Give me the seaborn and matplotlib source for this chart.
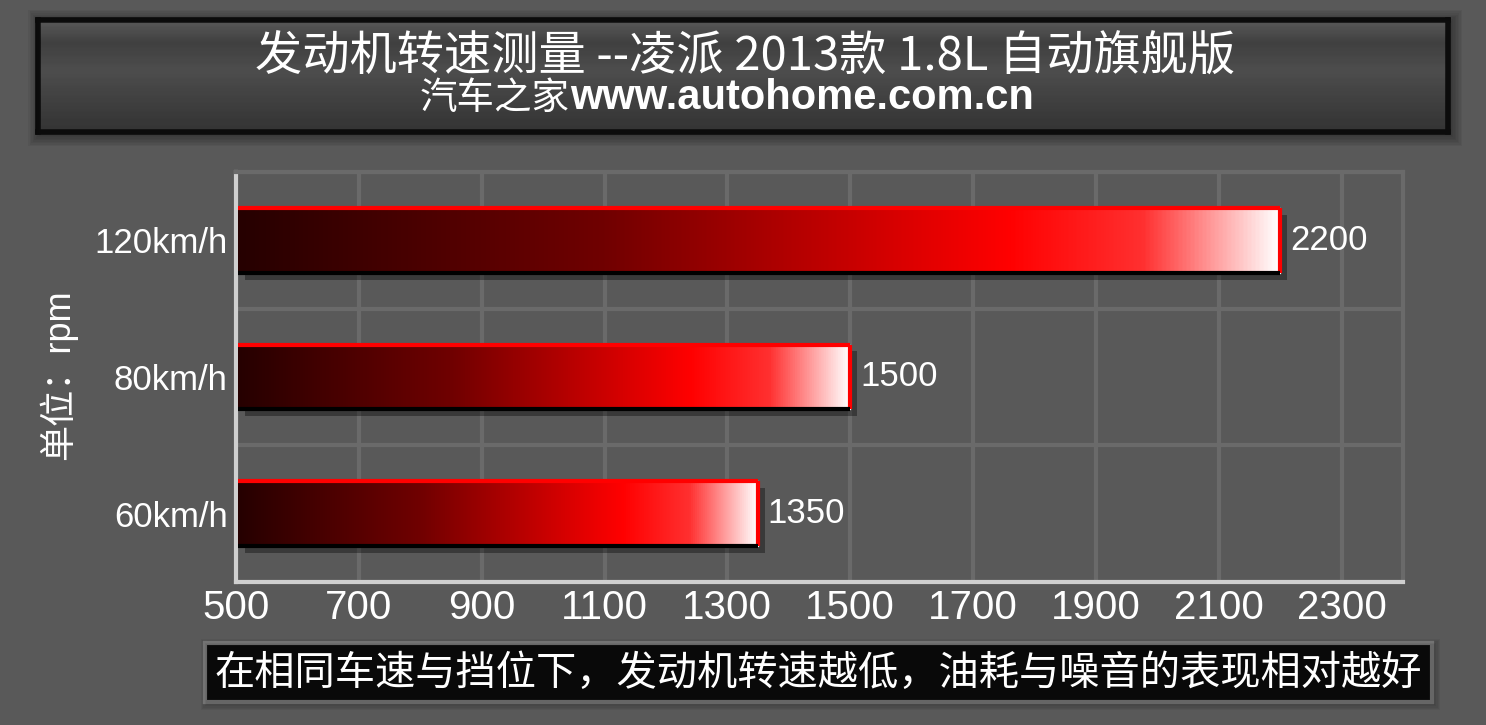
import numpy as np
import seaborn as sns
import matplotlib.pyplot as plt
import matplotlib.patheffects as pe
from matplotlib.colors import LinearSegmentedColormap
from matplotlib.patches import Rectangle

# data
speeds = ['120km/h', '80km/h', '60km/h']
rpm = [2200, 1500, 1350]
x_ticks = [500, 700, 900, 1100, 1300, 1500, 1700, 1900, 2100, 2300]
title = '发动机转速测量 --凌派 2013款 1.8L 自动旗舰版'
site_cn = '汽车之家'
site_url = 'www.autohome.com.cn'
unit_label = '单位：rpm'
note = '在相同车速与挡位下，发动机转速越低，油耗与噪音的表现相对越好'

sns.set_style('dark')
plt.rcParams['font.family'] = ['Liberation Sans', 'Noto Sans CJK SC']
cjk = ['Noto Sans CJK SC', 'DejaVu Sans']

W, H = 1486, 725
bg = '#595959'
grid_c = '#6a6a6a'
fig = plt.figure(figsize=(W / 100, H / 100), dpi=100, facecolor=bg)


def box(x0, y0, x1, y1):  # pixel box -> figure fraction rect
    return [x0 / W, 1 - y1 / H, (x1 - x0) / W, (y1 - y0) / H]


def glow(x0, y0, x1, y1, steps=8, spread=12):  # soft dark halo behind a box
    for i in range(steps, 0, -1):
        d = spread * i / steps
        fig.patches.append(Rectangle(((x0 - d + 2) / W, 1 - (y1 + d + 2) / H),
                                     (x1 - x0 + 2 * d) / W, (y1 - y0 + 2 * d) / H,
                                     transform=fig.transFigure, color='#202020',
                                     alpha=0.08, lw=0, zorder=0))


# ---- main chart
ax = fig.add_axes(box(236, 172, 1403, 582))
ax.set_facecolor(bg)
sns.barplot(x=rpm, y=speeds, orient='h', ax=ax, width=0.475, color='#cc0000', saturation=1)
ax.set_xlim(500, 2400)
ax.set_ylim(2.5, -0.5)
ax.set_xticks(x_ticks)
ax.set_yticks(np.arange(-0.5, 2.51, 0.5), minor=True)
ax.set_axisbelow(True)
ax.grid(False)
ax.grid(True, axis='x', which='major', color=grid_c, lw=3)
ax.grid(True, axis='y', which='minor', color=grid_c, lw=3)
ax.tick_params(axis='x', colors='white', labelsize=29, length=0, pad=5)
ax.tick_params(axis='y', colors='white', labelsize=25, length=0, pad=6)
ax.tick_params(axis='y', which='minor', length=0)
ax.set_xlabel('')
ax.set_ylabel('')
for s in ['left', 'bottom']:
    ax.spines[s].set_color('#cfcfcf')
    ax.spines[s].set_linewidth(3)
for s in ['right', 'top']:
    ax.spines[s].set_color(grid_c)
    ax.spines[s].set_linewidth(3)

bar_cmap = LinearSegmentedColormap.from_list(
    'bar', [(0, '#260000'), (0.35, '#700000'), (0.74, '#ff0000'),
            (0.87, '#ff3030'), (1.0, '#ffffff')])
grad = np.linspace(0, 1, 512).reshape(1, -1)
for p in ax.patches:
    x0 = 504
    x1 = p.get_x() + p.get_width()
    y0 = p.get_y()
    y1 = y0 + p.get_height()
    p.set_x(x0)
    p.set_width(x1 - x0)
    p.set_zorder(2)
    p.set_path_effects([pe.SimplePatchShadow(offset=(5, -5), shadow_rgbFace='black', alpha=0.35),
                        pe.Normal()])
    im = ax.imshow(grad, cmap=bar_cmap, extent=[x0, x1, y1, y0], aspect='auto',
                   zorder=3, interpolation='bilinear')
    im.set_clip_path(p)
    ax.plot([x0, x1], [y0, y0], color='#ff0000', lw=3, zorder=4, solid_capstyle='butt')
    ax.plot([x1, x1], [y0, y1], color='#ff0000', lw=3, zorder=4, solid_capstyle='butt')
    ax.plot([x0, x1], [y1, y1], color='black', lw=3, zorder=4, solid_capstyle='butt')
ax.set_xlim(500, 2400)
ax.set_ylim(2.5, -0.5)
ax.bar_label(ax.containers[0], padding=7, color='white', fontsize=25)

fig.text(58 / W, 1 - 375 / H, unit_label, rotation=90, ha='center', va='center',
         color='white', fontsize=26, family=['Liberation Sans', 'Noto Sans CJK SC'])

# ---- title banner
glow(38, 20, 1448, 132)
tax = fig.add_axes(box(38, 20, 1448, 132))
title_cmap = LinearSegmentedColormap.from_list(
    'ttl', [(0, '#959595'), (0.2, '#636363'), (0.45, '#7c7c7c'), (0.8, '#5c5c5c'), (1, '#4c4c4c')])
tax.imshow(np.linspace(0, 1, 256).reshape(-1, 1), cmap=title_cmap, aspect='auto',
           extent=[0, 1, 0, 1], interpolation='bilinear', vmin=0, vmax=1)
tax.set_xticks([])
tax.set_yticks([])
for s in tax.spines.values():
    s.set_color('black')
    s.set_linewidth(4)

fig.text(745 / W, 1 - 57 / H, title, ha='center', va='center', color='white', fontsize=34, family=cjk)
fig.text(570 / W, 1 - 98 / H, site_cn, ha='right', va='center', color='white', fontsize=27, family=cjk)
fig.text(570 / W, 1 - 98 / H, site_url, ha='left', va='center', color='white', fontsize=30,
         fontweight='bold', family=['Liberation Sans'])

# ---- bottom note
glow(205, 643, 1432, 702, steps=5, spread=6)
nax = fig.add_axes(box(205, 643, 1432, 702))
nax.set_facecolor('black')
nax.set_xticks([])
nax.set_yticks([])
for s in nax.spines.values():
    s.set_color('#8c8c8c')
    s.set_linewidth(3)
fig.text(818 / W, 1 - 673 / H, note, ha='center', va='center', color='white', fontsize=29, family=cjk)

fig.savefig('out.png', dpi=100, facecolor=bg)
